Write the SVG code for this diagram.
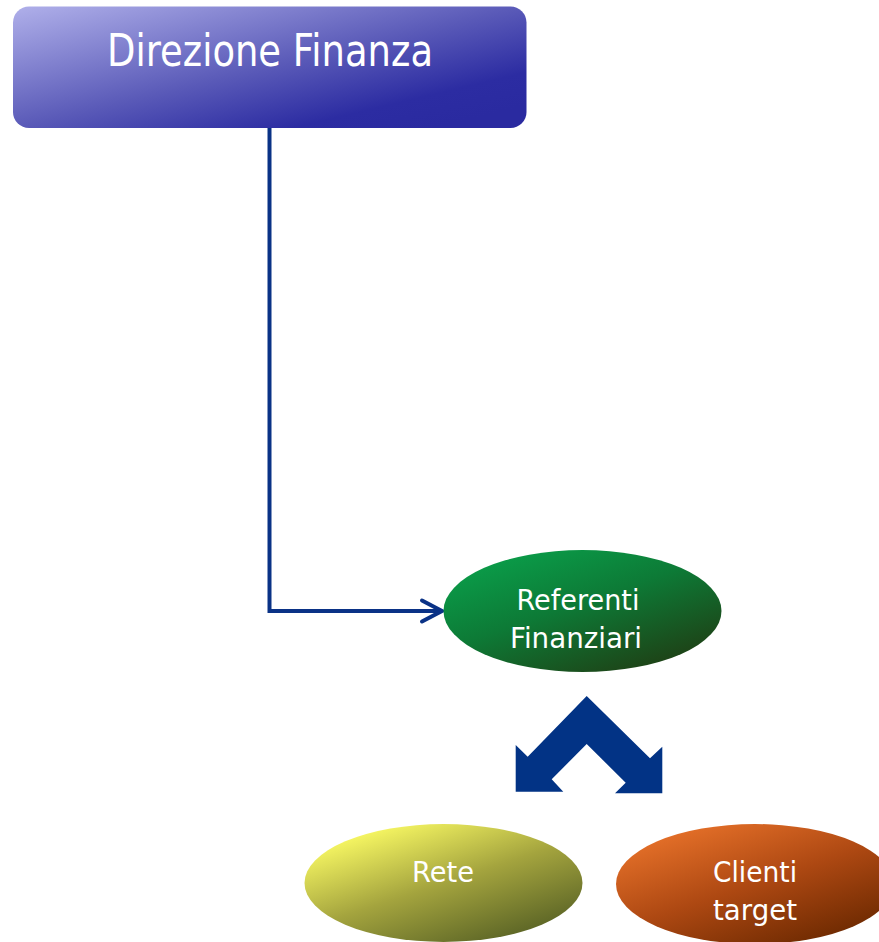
<svg xmlns="http://www.w3.org/2000/svg" width="879" height="942" viewBox="0 0 879 942">
<defs>
<style>
.lbl{font-family:"DejaVu Sans","Liberation Sans",sans-serif;fill:#ffffff;text-anchor:middle}
.conn{fill:none;stroke:#0a3286;stroke-width:4;stroke-linejoin:miter}
</style>
<linearGradient id="gBlue" gradientUnits="userSpaceOnUse" x1="13" y1="6" x2="63" y2="216">
<stop offset="0" stop-color="#b0b0ea"/>
<stop offset="0.55" stop-color="#5a5ab8"/>
<stop offset="0.85" stop-color="#2c2ca2"/>
<stop offset="1" stop-color="#2a2aa0"/>
</linearGradient>
<linearGradient id="gGreen" x1="0.15" y1="0.05" x2="0.85" y2="0.95">
<stop offset="0" stop-color="#0a9e4a"/>
<stop offset="0.45" stop-color="#0d7a36"/>
<stop offset="1" stop-color="#1f3e14"/>
</linearGradient>
<linearGradient id="gYellow" x1="0.15" y1="0.05" x2="0.85" y2="0.95">
<stop offset="0" stop-color="#ffff66"/>
<stop offset="0.5" stop-color="#a4a43e"/>
<stop offset="1" stop-color="#566024"/>
</linearGradient>
<linearGradient id="gOrange" x1="0.15" y1="0.05" x2="0.85" y2="0.95">
<stop offset="0" stop-color="#e8722a"/>
<stop offset="0.5" stop-color="#ad4812"/>
<stop offset="1" stop-color="#6a2800"/>
</linearGradient>
</defs>

<g id="connectors">
<polyline class="conn" points="269.5,127 269.5,611 441,611"/>
<polyline class="conn" points="422,600.5 442,611 422,621.5" stroke-linecap="round"/>
<polygon id="double-arrow" fill="#023385" points="586.7,696 650,758.3 662.3,746.7 662.3,793.3 615,793.3 625.7,782.7 586.7,744 551.7,779.3 563.3,791.7 515.7,791.7 515.7,745 527.7,756.7"/>
</g>

<g id="direzione-finanza">
<rect x="13" y="6.5" width="513.5" height="121.5" rx="16" ry="16" fill="url(#gBlue)"/>
<text class="lbl" x="270" y="66" font-size="44" textLength="326" lengthAdjust="spacingAndGlyphs">Direzione Finanza</text>
</g>

<g id="referenti-finanziari">
<ellipse cx="582.5" cy="611" rx="139" ry="61" fill="url(#gGreen)"/>
<text class="lbl" x="578" y="610" font-size="29" textLength="123" lengthAdjust="spacingAndGlyphs">Referenti</text>
<text class="lbl" x="576" y="648" font-size="29" textLength="132" lengthAdjust="spacingAndGlyphs">Finanziari</text>
</g>

<g id="rete">
<ellipse cx="443.5" cy="883" rx="139" ry="59" fill="url(#gYellow)"/>
<text class="lbl" x="443" y="882" font-size="29" textLength="62" lengthAdjust="spacingAndGlyphs">Rete</text>
</g>

<g id="clienti-target">
<ellipse cx="755" cy="884" rx="139" ry="60" fill="url(#gOrange)"/>
<text class="lbl" x="755" y="882" font-size="29" textLength="84" lengthAdjust="spacingAndGlyphs">Clienti</text>
<text class="lbl" x="755" y="920" font-size="29" textLength="84" lengthAdjust="spacingAndGlyphs">target</text>
</g>
</svg>
